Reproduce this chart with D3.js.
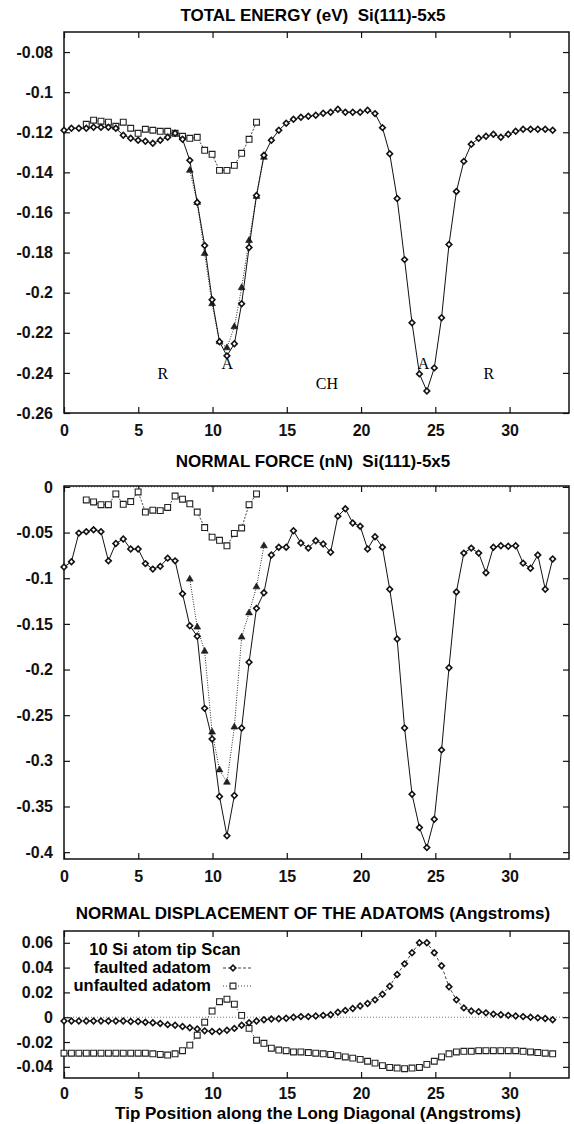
<!DOCTYPE html>
<html>
<head>
<meta charset="utf-8">
<script src="https://cdn.jsdelivr.net/npm/d3@7"></script>
<style>
  body { margin: 0; background: #fff; }
  svg { display: block; }
  text { white-space: pre; }
  .tick text { font-family: "Liberation Sans", Arial, sans-serif; font-weight: bold; font-size: 16px; fill: #111; }
  .tick line { stroke: #111; stroke-width: 1.2; }
</style>
</head>
<body>
<div id="wrapper"></div>
<script>
// tip positions along the long diagonal (Angstroms)
const xPos = [0, 0.50, 1.00, 1.50, 1.99, 2.49, 2.99, 3.49, 3.99, 4.49,
  4.99, 5.48, 5.98, 6.48, 6.98, 7.48, 7.98, 8.47, 8.97, 9.47,
  9.97, 10.47, 10.97, 11.47, 11.96, 12.46, 12.96, 13.46, 13.96, 14.46,
  14.96, 15.45, 15.95, 16.45, 16.95, 17.45, 17.95, 18.44, 18.94, 19.44,
  19.94, 20.44, 20.94, 21.44, 21.93, 22.43, 22.93, 23.43, 23.93, 24.43,
  24.93, 25.42, 25.92, 26.42, 26.92, 27.42, 27.92, 28.41, 28.91, 29.41,
  29.91, 30.41, 30.91, 31.41, 31.90, 32.40, 32.90];
const sqX = [1.50, 1.99, 2.49, 2.99, 3.49, 3.99, 4.49, 4.99, 5.48, 5.98, 6.48, 6.98,
  7.48, 7.98, 8.47, 8.97, 9.47, 9.97, 10.47, 10.97, 11.47, 11.96, 12.46, 12.96];
const triX = [8.47, 8.97, 9.47, 9.97, 10.47, 10.97, 11.47, 11.96, 12.46, 12.96, 13.46];

// TOTAL ENERGY (eV)
const energyDiamond = [-0.119, -0.118, -0.118, -0.118, -0.1175, -0.1175, -0.1175, -0.118, -0.1215, -0.123,
  -0.124, -0.1245, -0.1255, -0.124, -0.1225, -0.1205, -0.1235, -0.134, -0.155, -0.1765,
  -0.2035, -0.2245, -0.2315, -0.2255, -0.2055, -0.1775, -0.1515, -0.1315, -0.124, -0.119,
  -0.1155, -0.1135, -0.1125, -0.112, -0.1115, -0.1105, -0.110, -0.1085, -0.110, -0.110,
  -0.110, -0.109, -0.1107, -0.1177, -0.1307, -0.153, -0.1835, -0.215, -0.2405, -0.249,
  -0.2375, -0.2125, -0.176, -0.1495, -0.1345, -0.126, -0.123, -0.122, -0.121, -0.1225,
  -0.121, -0.1195, -0.1185, -0.1185, -0.1185, -0.1185, -0.119];
const energySquare = [-0.116, -0.114, -0.1145, -0.115, -0.117, -0.115, -0.118, -0.1205, -0.1185, -0.119,
  -0.1195, -0.1195, -0.1205, -0.122, -0.123, -0.1225, -0.129, -0.131, -0.139, -0.139,
  -0.1365, -0.1305, -0.1235, -0.115];
const energyTriangle = [-0.139, -0.155, -0.1805, -0.2055, -0.2245, -0.2275, -0.217, -0.1975, -0.174, -0.152, -0.1325];
const energyNotes = ["R", "A", "CH", "A", "R"];
const energyNoteX = [6.65, 11.0, 17.7, 24.2, 28.6];
const energyNoteY = [-0.243, -0.238, -0.248, -0.238, -0.243];

// NORMAL FORCE (nN)
const forceDiamond = [-0.0877, -0.082, -0.0506, -0.049, -0.047, -0.049, -0.081, -0.062, -0.057, -0.068,
  -0.068, -0.084, -0.090, -0.087, -0.078, -0.081, -0.117, -0.152, -0.1635, -0.2425,
  -0.276, -0.339, -0.382, -0.338, -0.264, -0.192, -0.133, -0.116, -0.0745, -0.066,
  -0.066, -0.048, -0.0615, -0.067, -0.059, -0.0625, -0.0715, -0.032, -0.024, -0.0395,
  -0.043, -0.068, -0.0545, -0.066, -0.112, -0.1665, -0.264, -0.3365, -0.373, -0.395,
  -0.364, -0.288, -0.198, -0.115, -0.0725, -0.067, -0.0725, -0.094, -0.066, -0.0645,
  -0.065, -0.0645, -0.0835, -0.089, -0.0745, -0.112, -0.079];
const forceSquare = [-0.0143, -0.0165, -0.0195, -0.0195, -0.0077, -0.019, -0.016, -0.0055, -0.0275, -0.0255,
  -0.026, -0.0225, -0.010, -0.0135, -0.0185, -0.0275, -0.0445, -0.055, -0.0585, -0.0645,
  -0.051, -0.045, -0.0195, -0.0077];
const forceTriangle = [-0.101, -0.1535, -0.180, -0.2685, -0.310, -0.3235, -0.263, -0.1645, -0.138, -0.1095, -0.0645];

// NORMAL DISPLACEMENT OF THE ADATOMS (Angstroms)
const dispFaulted = [-0.003, -0.003, -0.003, -0.003, -0.003, -0.003, -0.003, -0.003, -0.003, -0.0035,
  -0.0035, -0.004, -0.0045, -0.005, -0.006, -0.0065, -0.0075, -0.0085, -0.0095, -0.011,
  -0.0115, -0.0115, -0.0105, -0.009, -0.0065, -0.0045, -0.003, -0.002, -0.0015, -0.0012,
  -0.0008, 0, 0.0005, 0.0005, 0.001, 0.0015, 0.002, 0.004, 0.0055, 0.007,
  0.009, 0.011, 0.014, 0.0185, 0.025, 0.0345, 0.043, 0.052, 0.06, 0.06,
  0.052, 0.0415, 0.0245, 0.014, 0.0075, 0.005, 0.0045, 0.0035, 0.0025, 0.002,
  0.0015, 0.001, 0.0005, 0, -0.0005, -0.001, -0.002];
const dispUnfaulted = [-0.029, -0.029, -0.029, -0.029, -0.029, -0.029, -0.029, -0.029, -0.029, -0.029,
  -0.029, -0.029, -0.0295, -0.030, -0.0305, -0.0295, -0.027, -0.0225, -0.0145, -0.004,
  0.005, 0.0125, 0.0145, 0.0105, 0.0015, -0.009, -0.0185, -0.021, -0.025, -0.0265,
  -0.027, -0.028, -0.028, -0.0285, -0.029, -0.0295, -0.030, -0.031, -0.032, -0.033,
  -0.034, -0.0355, -0.037, -0.039, -0.0405, -0.041, -0.0415, -0.041, -0.0405, -0.038,
  -0.0355, -0.032, -0.0295, -0.028, -0.0275, -0.0275, -0.027, -0.027, -0.027, -0.027,
  -0.027, -0.027, -0.0275, -0.028, -0.0285, -0.029, -0.0295];

const xTicks = [0, 5, 10, 15, 20, 25, 30];
const energyTicks = [-0.26, -0.24, -0.22, -0.2, -0.18, -0.16, -0.14, -0.12, -0.1, -0.08];
const forceTicks = [-0.4, -0.35, -0.3, -0.25, -0.2, -0.15, -0.1, -0.05, 0];
const dispTicks = [-0.04, -0.02, 0, 0.02, 0.04, 0.06];
const legendTitle = "10 Si atom tip Scan";
const legendNames = ["faulted adatom", "unfaulted adatom"];

const width = 574, height = 1124;
const left = 64, right = 569;
const fmt = d => String(+d.toFixed(3));

const svg = d3.select("#wrapper").append("svg")
  .attr("width", width).attr("height", height);

const xScale = d3.scaleLinear().domain([0, 34]).range([left, right]);

const markers = {
  diamond: g => g.append("path").attr("d", d3.symbol().type(d3.symbolSquare).size(16)())
    .attr("fill", "#fff").attr("stroke", "#111").attr("stroke-width", 1.6),
  square: g => g.append("path").attr("d", d3.symbol().type(d3.symbolSquare).size(34)())
    .attr("fill", "#fff").attr("stroke", "#222").attr("stroke-width", 1.1),
  triangle: g => g.append("path").attr("d", d3.symbol().type(d3.symbolTriangle).size(20)())
    .attr("fill", "#222").attr("stroke", "#111").attr("stroke-width", 0.6)
};

function drawPanel(p) {
  const y = d3.scaleLinear().domain(p.yDomain).range([p.bottom, p.top]);
  const g = svg.append("g");

  g.append("text")
    .attr("x", 313).attr("y", p.titleY)
    .attr("text-anchor", "middle")
    .style("font-family", "Liberation Sans, Arial, sans-serif")
    .style("font-weight", "bold").style("font-size", "17px")
    .text(p.title);

  // zero line (dotted)
  if (p.yDomain[0] < 0 && p.yDomain[1] > 0) {
    g.append("line")
      .attr("x1", left).attr("x2", right)
      .attr("y1", y(0)).attr("y2", y(0))
      .attr("stroke", "#555").attr("stroke-width", 0.8)
      .attr("stroke-dasharray", "1,2");
  }

  g.append("g").attr("transform", `translate(0,${p.bottom})`)
    .call(d3.axisBottom(xScale).tickValues(xTicks).tickFormat(d3.format("d"))
      .tickSizeInner(-6).tickSizeOuter(0).tickPadding(p.xPad))
    .call(a => a.select(".domain").remove());
  g.append("g").attr("transform", `translate(0,${p.top})`)
    .call(d3.axisTop(xScale).tickValues(xTicks).tickFormat("")
      .tickSizeInner(-6).tickSizeOuter(0))
    .call(a => a.select(".domain").remove());
  g.append("g").attr("transform", `translate(${left},0)`)
    .call(d3.axisLeft(y).tickValues(p.yTicks).tickFormat(fmt)
      .tickSizeInner(-6).tickSizeOuter(0).tickPadding(11))
    .call(a => a.select(".domain").remove());
  g.append("g").attr("transform", `translate(${right},0)`)
    .call(d3.axisRight(y).tickValues(p.yTicks).tickFormat("")
      .tickSizeInner(-6).tickSizeOuter(0))
    .call(a => a.select(".domain").remove());

  g.append("rect")
    .attr("x", left).attr("y", p.top)
    .attr("width", right - left).attr("height", p.bottom - p.top)
    .attr("fill", "none").attr("stroke", "#111").attr("stroke-width", 1.5);

  p.series.forEach(s => {
    const pts = s.x.map((d, i) => [d, s.y[i]]);
    const line = d3.line().x(d => xScale(d[0])).y(d => y(d[1]));
    g.append("path").datum(pts)
      .attr("d", line)
      .attr("fill", "none")
      .attr("stroke", "#111")
      .attr("stroke-width", s.width)
      .attr("stroke-dasharray", s.dash);
    g.selectAll(null).data(pts).enter()
      .append("g")
      .attr("transform", d => `translate(${xScale(d[0])},${y(d[1])})` + (s.marker === "diamond" ? " rotate(45)" : ""))
      .each(function () { markers[s.marker](d3.select(this)); });
  });

  return { g, y };
}

// panel 1
const p1 = drawPanel({
  title: "TOTAL ENERGY (eV)  Si(111)-5x5", titleY: 21, xPad: 12,
  top: 32, bottom: 413, yDomain: [-0.26, -0.07], yTicks: energyTicks,
  series: [
    { x: sqX, y: energySquare, marker: "square", dash: "2,1.5", width: 0.8 },
    { x: triX, y: energyTriangle, marker: "triangle", dash: "1,1.5", width: 0.9 },
    { x: xPos, y: energyDiamond, marker: "diamond", dash: null, width: 1 }
  ]
});
p1.g.selectAll(".note").data(energyNotes).enter()
  .append("text")
  .attr("class", "note")
  .attr("x", (d, i) => xScale(energyNoteX[i]))
  .attr("y", (d, i) => p1.y(energyNoteY[i]))
  .attr("text-anchor", "middle")
  .style("font-family", "Liberation Serif, Times, serif")
  .style("font-size", "16px")
  .text(d => d);

// panel 2
drawPanel({
  title: "NORMAL FORCE (nN)  Si(111)-5x5", titleY: 467, xPad: 12,
  top: 486, bottom: 859, yDomain: [-0.4075, 0.001], yTicks: forceTicks,
  series: [
    { x: sqX, y: forceSquare, marker: "square", dash: "2,1.5", width: 0.8 },
    { x: triX, y: forceTriangle, marker: "triangle", dash: "1,1.5", width: 0.9 },
    { x: xPos, y: forceDiamond, marker: "diamond", dash: null, width: 1 }
  ]
});

// panel 3
drawPanel({
  title: "NORMAL DISPLACEMENT OF THE ADATOMS (Angstroms)", titleY: 919, xPad: 9.5,
  top: 931, bottom: 1078, yDomain: [-0.049, 0.0695], yTicks: dispTicks,
  series: [
    { x: xPos, y: dispUnfaulted, marker: "square", dash: "1,2", width: 0.8 },
    { x: xPos, y: dispFaulted, marker: "diamond", dash: "3,2", width: 0.8 }
  ]
});

svg.append("text")
  .attr("x", 318).attr("y", 1119)
  .attr("text-anchor", "middle")
  .style("font-family", "Liberation Sans, Arial, sans-serif")
  .style("font-weight", "bold").style("font-size", "17px")
  .text("Tip Position along the Long Diagonal (Angstroms)");

// legend
const legend = svg.append("g")
  .style("font-family", "Liberation Sans, Arial, sans-serif")
  .style("font-weight", "bold").style("font-size", "16.5px");
legend.append("text").attr("x", 165).attr("y", 955)
  .attr("text-anchor", "middle").text(legendTitle);
const legendMarks = [
  { marker: "diamond", dash: "3,2" },
  { marker: "square", dash: "1,2" }
];
legendNames.forEach((name, i) => {
  const ly = 973 + i * 18;
  legend.append("text").attr("x", 211).attr("y", ly)
    .attr("text-anchor", "end").text(name);
  legend.append("line")
    .attr("x1", 223).attr("x2", 253)
    .attr("y1", ly - 5).attr("y2", ly - 5)
    .attr("stroke", "#111").attr("stroke-width", 0.8)
    .attr("stroke-dasharray", legendMarks[i].dash);
  const m = legend.append("g")
    .attr("transform", `translate(233,${ly - 5})` + (legendMarks[i].marker === "diamond" ? " rotate(45)" : ""));
  markers[legendMarks[i].marker](m);
});
</script>
</body>
</html>
